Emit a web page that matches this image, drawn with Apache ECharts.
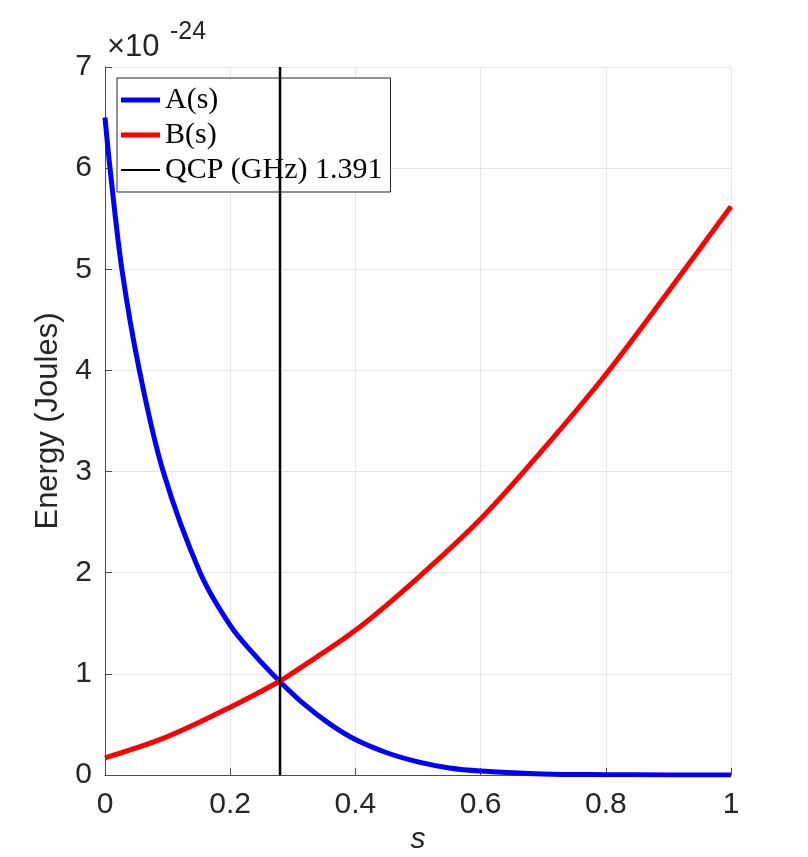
<!DOCTYPE html>
<html>
<head>
<meta charset="utf-8">
<script src="https://cdn.jsdelivr.net/npm/echarts@6/dist/echarts.min.js"></script>
<style>
    html, body { margin: 0; padding: 0; background: #fff; }
    #chart { width: 808px; height: 857px; }
</style>
</head>
<body>
<div id="chart"></div>
<script>
// values in units of 1e-24 J
let aS = [0, 0.008, 0.027, 0.055, 0.093, 0.152, 0.2, 0.24, 0.28, 0.32, 0.36, 0.4, 0.45, 0.5, 0.55, 0.6, 0.7, 0.8, 0.9, 1];
let aVal = [6.50, 6.00, 5.00, 4.00, 3.00, 2.00, 1.48, 1.18, 0.92, 0.69, 0.50, 0.35, 0.22, 0.13, 0.07, 0.04, 0.01, 0.003, 0.001, 0];
let bS = [0, 0.1, 0.2, 0.28, 0.3, 0.4, 0.5, 0.6, 0.7, 0.8, 0.9, 1];
let bVal = [0.17, 0.38, 0.67, 0.93, 1.01, 1.43, 1.95, 2.53, 3.22, 3.96, 4.78, 5.62];
let qcpS = 0.2796;
let qcpSpan = [0, 7];
let xTicks = [0, 0.2, 0.4, 0.6, 0.8, 1];
let yTicks = [0, 1, 2, 3, 4, 5, 6, 7];

let zip = (xs, ys) => xs.map((x, i) => [x, ys[i]]);

let myChart = echarts.init(document.getElementById('chart'));
let axisGray = '#4d4d4d';
let textColor = '#262626';
let option = {
    backgroundColor: '#fff',
    animation: false,
    grid: {left: 105, right: 77, top: 67, bottom: 82, outerBoundsMode: 'none'},
    graphic: [
        {type: 'text', left: 107, top: 32, style: {text: '×10', fontSize: 31, fontFamily: 'Liberation Sans', fill: textColor}},
        {type: 'text', left: 170, top: 20, style: {text: '-24', fontSize: 25, fontFamily: 'Liberation Sans', fill: textColor}}
    ],
    legend: {
        orient: 'vertical',
        left: 117,
        top: 78,
        padding: [7, 8, 7, 4],
        itemGap: 5,
        itemWidth: 39,
        itemHeight: 12,
        symbolKeepAspect: true,
        borderColor: '#262626',
        borderWidth: 1,
        borderRadius: 0,
        backgroundColor: '#fff',
        textStyle: {fontFamily: 'Liberation Serif', fontSize: 30, color: '#000'},
        data: [
            {name: 'A(s)', icon: 'path://M0,0H40V5H0Z'},
            {name: 'B(s)', icon: 'path://M0,0H40V5H0Z'},
            {name: 'QCP (GHz) 1.391', icon: 'path://M0,0H40V2H0Z'}
        ]
    },
    xAxis: {
        type: 'value',
        min: 0,
        max: 1,
        interval: 0.2,
        name: 's',
        nameLocation: 'middle',
        nameGap: 44,
        nameTextStyle: {fontSize: 30, fontStyle: 'italic', fontFamily: 'Liberation Sans', color: textColor},
        axisLine: {show: true, lineStyle: {color: axisGray, width: 1}},
        axisTick: {show: true, inside: true, length: 7, lineStyle: {color: axisGray}},
        axisLabel: {
            fontSize: 30, fontFamily: 'Liberation Sans', color: textColor, margin: 15,
            formatter: v => xTicks.indexOf(v) >= 0 ? String(v) : ''
        },
        splitLine: {show: true, lineStyle: {color: '#e6e6e6', width: 1}}
    },
    yAxis: {
        type: 'value',
        min: 0,
        max: 7,
        interval: 1,
        name: 'Energy (Joules)',
        nameLocation: 'middle',
        nameGap: 38,
        nameTextStyle: {fontSize: 31, fontFamily: 'Liberation Sans', color: textColor},
        axisLine: {show: true, lineStyle: {color: axisGray, width: 1}},
        axisTick: {show: true, inside: true, length: 7, lineStyle: {color: axisGray}},
        axisLabel: {
            fontSize: 30, fontFamily: 'Liberation Sans', color: textColor, margin: 13,
            formatter: v => yTicks.indexOf(v) >= 0 ? String(v) : ''
        },
        splitLine: {show: true, lineStyle: {color: '#e6e6e6', width: 1}}
    },
    series: [
        {
            name: 'A(s)',
            type: 'line',
            data: zip(aS, aVal),
            smooth: 0.35,
            symbol: 'none',
            color: '#0000ff',
            lineStyle: {color: '#0000ff', width: 5},
            z: 3
        },
        {
            name: 'B(s)',
            type: 'line',
            data: zip(bS, bVal),
            smooth: 0.35,
            symbol: 'none',
            color: '#ff0000',
            lineStyle: {color: '#ff0000', width: 5},
            z: 4
        },
        {
            name: 'QCP (GHz) 1.391',
            type: 'line',
            data: qcpSpan.map(v => [qcpS, v]),
            symbol: 'none',
            color: '#000',
            lineStyle: {color: '#000', width: 2.5},
            z: 5
        }
    ]
};
myChart.setOption(option);
</script>
</body>
</html>
